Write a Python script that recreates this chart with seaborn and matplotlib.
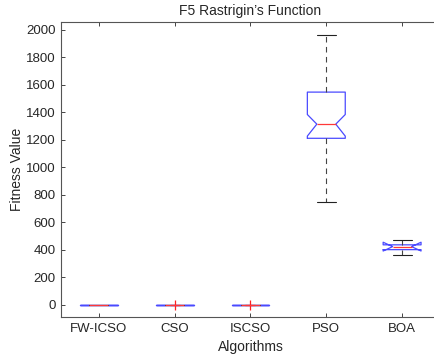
import matplotlib
matplotlib.use("Agg")
import matplotlib.pyplot as plt
import seaborn as sns

algorithms = ["FW-ICSO", "CSO", "ISCSO", "PSO", "BOA"]
whis_lo = [0, 0, 0, 748, 366]
q1 = [0, 0, 0, 1212, 402]
median = [0, 0, 0, 1315, 424]
q3 = [0, 0, 0, 1548, 437]
whis_hi = [0, 0, 0, 1965, 471]
ci_lo = [0, 0, 0, 1228, 392]
ci_hi = [0, 0, 0, 1385, 456]
outliers = [[], [0], [0], [], []]
yticks = list(range(0, 2001, 200))

sns.set_style("white")
plt.rcParams["font.family"] = ["Liberation Sans", "DejaVu Sans"]

fig = plt.figure(figsize=(4.34, 3.62), dpi=100)
ax = fig.add_axes([61 / 434, 1 - 317 / 362, 379 / 434, 295 / 362])

stats = []
for i, name in enumerate(algorithms):
    stats.append(dict(label=name, whislo=whis_lo[i], q1=q1[i], med=median[i],
                      q3=q3[i], whishi=whis_hi[i], cilo=ci_lo[i], cihi=ci_hi[i],
                      fliers=outliers[i]))

ax.bxp(stats, positions=range(1, 6), widths=0.5, shownotches=True,
       boxprops=dict(color="#4a4aff", linewidth=0.9),
       medianprops=dict(color="#ff3838", linewidth=0.9),
       whiskerprops=dict(color="#444444", linestyle=(0, (5, 4)), linewidth=0.8),
       capprops=dict(color="#222222", linewidth=0.8),
       flierprops=dict(marker="+", markeredgecolor="#ff2020", markersize=7,
                       markeredgewidth=0.9, linestyle="none"))

ax.set_xlim(0.5, 5.5)
ax.set_ylim(-88, 2058)
ax.set_yticks(yticks)
ax.set_xticks(range(1, 6))
ax.set_xticklabels(algorithms)
ax.tick_params(direction="in", length=3, width=0.7, color="#444444",
               labelsize=9.5, bottom=True, left=True, top=True, right=False,
               labelcolor="#262626", pad=4)
for s in ax.spines.values():
    s.set_color("#555555")
    s.set_linewidth(0.8)
ax.spines["right"].set_visible(False)
ax.set_title("F5 Rastrigin\u2019s Function", fontsize=10, color="#262626", pad=5)
ax.set_xlabel("Algorithms", fontsize=10, color="#262626", labelpad=4)
ax.set_ylabel("Fitness Value", fontsize=10, color="#262626", labelpad=1)

fig.savefig("out.png", dpi=100)
